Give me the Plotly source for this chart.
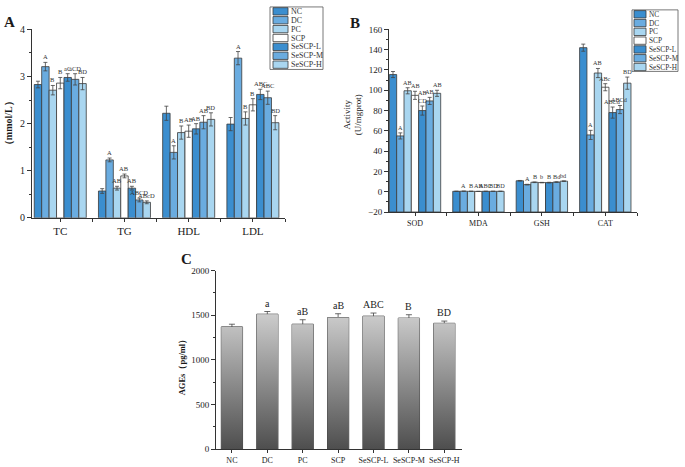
import plotly.graph_objects as go

W, H = 685, 467
FONT = "Liberation Serif"
AXC = "#333333"

GROUPS = ["NC", "DC", "PC", "SCP", "SeSCP-L", "SeSCP-M", "SeSCP-H"]
COLORS = ["#3b8ecf", "#6aace0", "#a9d6f0", "#ffffff", "#3b8ecf", "#6aace0", "#a9d6f0"]

# ---------- Panel A (mmol/L) ----------
A_CATS = ["TC", "TG", "HDL", "LDL"]
A_TC = [2.83, 3.21, 2.71, 2.86, 2.98, 2.94, 2.85]
A_TC_ERR = [0.07, 0.09, 0.10, 0.12, 0.08, 0.12, 0.13]
A_TC_LBL = ["", "A", "B", "B", "aC", "aCD", "BD"]
A_TG = [0.57, 1.23, 0.63, 0.89, 0.63, 0.38, 0.33]
A_TG_ERR = [0.05, 0.04, 0.04, 0.04, 0.04, 0.04, 0.03]
A_TG_LBL = ["", "A", "AB", "AB", "AB", "ABCD", "ABcD"]
A_HDL = [2.22, 1.39, 1.81, 1.84, 1.89, 2.03, 2.09]
A_HDL_ERR = [0.15, 0.14, 0.14, 0.13, 0.11, 0.14, 0.14]
A_HDL_LBL = ["", "A", "B", "AB", "AB", "AB", "BD"]
A_LDL = [1.99, 3.39, 2.11, 2.40, 2.62, 2.55, 2.02]
A_LDL_ERR = [0.14, 0.14, 0.14, 0.13, 0.11, 0.14, 0.15]
A_LDL_LBL = ["", "A", "B", "B", "ABC", "ABC", "BD"]

# ---------- Panel B (U/mgprot) ----------
B_CATS = ["SOD", "MDA", "GSH", "CAT"]
B_SOD = [115.5, 55.0, 99.5, 95.0, 80.0, 89.5, 97.0]
B_SOD_ERR = [3.0, 3.0, 3.0, 4.0, 4.5, 3.5, 3.0]
B_SOD_LBL = ["", "A", "AB", "AB", "AB<br>CD", "AB", "AB"]
B_MDA = [0.4, 0.5, 0.4, 0.3, 0.4, 0.4, 0.4]
B_MDA_ERR = [0.05, 0.05, 0.05, 0.05, 0.05, 0.05, 0.05]
B_MDA_LBL = ["", "A", "B", "AB", "ABC", "BD", "BD"]
B_GSH = [10.8, 7.0, 9.3, 9.0, 9.0, 9.5, 10.4]
B_GSH_ERR = [0.3, 0.3, 0.3, 0.2, 0.3, 0.3, 0.3]
B_GSH_LBL = ["", "A", "B", "b", "B", "Bd", "bd"]
B_CAT = [142.0, 56.0, 117.0, 103.0, 78.0, 81.0, 107.0]
B_CAT_ERR = [3.5, 4.5, 4.5, 3.5, 5.5, 4.0, 6.0]
B_CAT_LBL = ["", "A", "AB", "ABc", "ABCd", "ABCd", "BD"]

# ---------- Panel C (AGEs pg/ml) ----------
C_VALS = [1370, 1512, 1400, 1475, 1490, 1468, 1410]
C_ERR = [30, 30, 50, 42, 35, 38, 25]
C_LBL = ["", "a", "aB", "aB", "ABC", "B", "BD"]

BARGAP = 0.19
BAR_W = (1 - BARGAP) / len(GROUPS)


def px(x):
    return x / W


def py(y):
    return 1 - y / H


fig = go.Figure()
annotations = []
shapes = []


def add_grouped(vals_by_cat, errs_by_cat, lbls_by_cat, xa, ya, base, lblsize):
    n = len(GROUPS)
    for k in range(n):
        vals = [v[k] for v in vals_by_cat]
        errs = [e[k] for e in errs_by_cat]
        xs = list(range(len(vals_by_cat)))
        fig.add_trace(go.Bar(
            x=xs, y=[v - base for v in vals], base=base, name=GROUPS[k],
            offsetgroup=str(k), showlegend=False,
            marker=dict(color=COLORS[k], line=dict(color="#3a3a3a", width=0.8)),
            error_y=dict(type="data", array=errs, color="#444444", thickness=0.8, width=2),
            xaxis=xa, yaxis=ya,
        ))
        for i, (v, e) in enumerate(zip(vals, errs)):
            t = lbls_by_cat[i][k]
            if t:
                annotations.append(dict(
                    x=i + (k - (n - 1) / 2) * BAR_W, y=v + e, xref=xa, yref=ya,
                    text=t, showarrow=False, xanchor="center", yanchor="bottom",
                    font=dict(family=FONT, size=lblsize, color="#333333"),
                ))


add_grouped([A_TC, A_TG, A_HDL, A_LDL], [A_TC_ERR, A_TG_ERR, A_HDL_ERR, A_LDL_ERR],
            [A_TC_LBL, A_TG_LBL, A_HDL_LBL, A_LDL_LBL], "x", "y", 0, 6.5)
add_grouped([B_SOD, B_MDA, B_GSH, B_CAT], [B_SOD_ERR, B_MDA_ERR, B_GSH_ERR, B_CAT_ERR],
            [B_SOD_LBL, B_MDA_LBL, B_GSH_LBL, B_CAT_LBL], "x2", "y2", -20, 6.2)

# Panel C: gradient-filled bars
CW = 0.6
gx, gy = [], []
for i, v in enumerate(C_VALS):
    gx += [i - CW / 2, i - CW / 2, i + CW / 2, i + CW / 2, i - CW / 2, None]
    gy += [0, v, v, 0, 0, None]
fig.add_trace(go.Scatter(
    x=gx, y=gy, mode="lines", fill="toself", line=dict(width=0),
    fillgradient=dict(type="vertical", colorscale=[[0, "#4a4a4a"], [1, "#cbcbcb"]],
                      start=0, stop=max(C_VALS)),
    showlegend=False, hoverinfo="skip", xaxis="x3", yaxis="y3",
))
fig.add_trace(go.Bar(
    x=list(range(len(GROUPS))), y=C_VALS, width=CW, showlegend=False,
    marker=dict(color="rgba(0,0,0,0)", line=dict(color="#444444", width=1)),
    error_y=dict(type="data", array=C_ERR, color="#444444", thickness=0.8, width=3),
    xaxis="x3", yaxis="y3",
))
for i, (v, e) in enumerate(zip(C_VALS, C_ERR)):
    if C_LBL[i]:
        annotations.append(dict(x=i, y=v + e, xref="x3", yref="y3", text=C_LBL[i],
                                showarrow=False, xanchor="center", yanchor="bottom", yshift=1,
                                font=dict(family=FONT, size=10, color="#222222")))


# ---------- Manual legends ----------
def add_legend(x0, y0, x1, y1, sw0, sw1, tx, row0, step, sh, fsize):
    shapes.append(dict(type="rect", xref="paper", yref="paper", x0=px(x0), x1=px(x1),
                       y0=py(y1), y1=py(y0), line=dict(color="#555555", width=0.8),
                       fillcolor="white", layer="above"))
    for k, g in enumerate(GROUPS):
        cy = row0 + k * step
        shapes.append(dict(type="rect", xref="paper", yref="paper", x0=px(sw0), x1=px(sw1),
                           y0=py(cy + sh / 2), y1=py(cy - sh / 2),
                           line=dict(color="#3a3a3a", width=0.8), fillcolor=COLORS[k],
                           layer="above"))
        annotations.append(dict(x=px(tx), y=py(cy), xref="paper", yref="paper", text=g,
                                showarrow=False, xanchor="left", yanchor="middle",
                                font=dict(family=FONT, size=fsize, color="#333333")))


add_legend(270, 2, 323, 66, 273, 288, 289, 6.5, 9.1, 7.5, 8)
add_legend(632, 5, 678, 68, 634, 646, 647, 9.5, 9.0, 7.5, 7.3)


def paper_text(text, x, y, size, angle=0):
    annotations.append(dict(x=px(x), y=py(y), xref="paper", yref="paper", text=text,
                            textangle=angle, showarrow=False, xanchor="center", yanchor="middle",
                            font=dict(family=FONT, size=size, color="#1a1a1a")))


# ---------- Panel letters and axis titles ----------
paper_text("<b>A</b>", 9, 17, 15)
paper_text("<b>B</b>", 355, 18, 15)
paper_text("<b>C</b>", 186, 260, 15)
paper_text("<b>（mmol/L）</b>", 8, 121, 10, -90)
paper_text("Activity<br>(U/mgprot)", 353, 112, 9, -90)
paper_text("<b>AGEs（pg/ml）</b>", 182, 369, 8.5, -90)

axis_common = dict(showline=True, linecolor=AXC, linewidth=1, ticks="outside",
                   tickcolor=AXC, showgrid=False, zeroline=False)

fig.update_layout(
    width=W, height=H, margin=dict(l=0, r=0, t=0, b=0), autosize=False,
    paper_bgcolor="white", plot_bgcolor="white",
    barmode="group", bargap=BARGAP, bargroupgap=0,
    font=dict(family=FONT, color="#222222"),
    xaxis=dict(domain=[px(32), px(285)], anchor="y", range=[-0.44, 3.5],
               tickmode="array", tickvals=list(range(len(A_CATS))), ticktext=A_CATS,
               tickfont=dict(size=11), ticklen=3,
               minor=dict(tickmode="array", tickvals=[i + 0.5 for i in range(len(A_CATS))],
                          ticks="outside", ticklen=3, tickcolor=AXC),
               **axis_common),
    yaxis=dict(domain=[py(218), py(25)], anchor="x", range=[0, 4], dtick=1,
               tickfont=dict(size=10), ticklen=4,
               minor=dict(dtick=0.5, ticks="outside", ticklen=2, tickcolor=AXC), **axis_common),
    xaxis2=dict(domain=[px(389), px(637)], anchor="y2", range=[-0.41, 3.5],
                tickmode="array", tickvals=list(range(len(B_CATS))), ticktext=B_CATS,
                tickfont=dict(size=8), ticklen=3,
                minor=dict(tickmode="array", tickvals=[i + 0.5 for i in range(len(B_CATS))],
                           ticks="outside", ticklen=3, tickcolor=AXC),
                **axis_common),
    yaxis2=dict(domain=[py(212), py(25)], anchor="x2", range=[-20, 160], dtick=20,
                tickfont=dict(size=9), ticklen=4,
                minor=dict(dtick=10, ticks="outside", ticklen=2, tickcolor=AXC), **axis_common),
    xaxis3=dict(domain=[px(216), px(462)], anchor="y3", range=[-0.45, 6.5],
                tickmode="array", tickvals=list(range(len(GROUPS))), ticktext=GROUPS,
                tickfont=dict(size=8), ticklen=3, **axis_common),
    yaxis3=dict(domain=[py(455), py(272)], anchor="x3", range=[0, 2000], dtick=500,
                tickfont=dict(size=9), ticklen=4,
                minor=dict(dtick=250, ticks="outside", ticklen=2, tickcolor=AXC), **axis_common),
    annotations=annotations, shapes=shapes,
)

fig.write_html("out.html", config={"displayModeBar": False},
               post_script="document.body.style.margin='0';document.body.style.padding='0';"
                           "document.documentElement.style.overflow='hidden';")
